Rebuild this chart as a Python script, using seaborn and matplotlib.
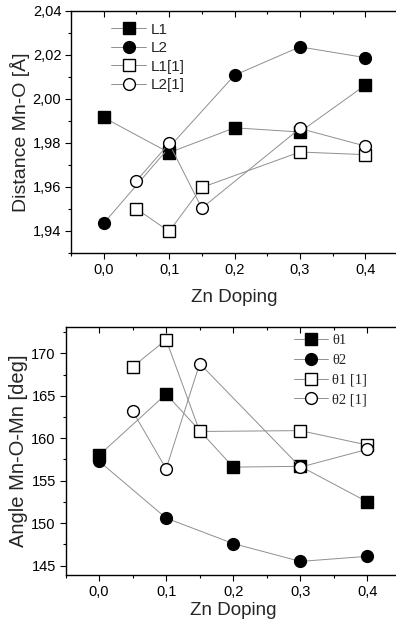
import matplotlib
matplotlib.use("Agg")
import matplotlib.pyplot as plt
from matplotlib.ticker import FuncFormatter, MultipleLocator
import seaborn as sns
import pandas as pd

sns.set_style("ticks")
plt.rcParams['font.family'] = ['Liberation Sans', 'DejaVu Sans']

# --- Data: top panel (Distance Mn-O) ---
x_main = [0.0, 0.1, 0.2, 0.3, 0.4]
x_ref = [0.05, 0.1, 0.15, 0.3, 0.4]
L1 = [1.9916, 1.9756, 1.9869, 1.9850, 2.0063]
L2 = [1.9435, 1.9780, 2.0108, 2.0237, 2.0188]
L1_ref = [1.9501, 1.9398, 1.9598, 1.9759, 1.9747]
L2_ref = [1.9628, 1.9798, 1.9504, 1.9866, 1.9786]

# --- Data: bottom panel (Angle Mn-O-Mn) ---
theta1 = [158.0, 165.2, 156.6, 156.7, 152.5]
theta2 = [157.3, 150.6, 147.6, 145.5, 146.1]
theta1_ref = [168.4, 171.6, 160.8, 160.9, 159.2]
theta2_ref = [163.2, 156.4, 168.8, 156.6, 158.7]

top_labels = ["L1", "L2", "L1[1]", "L2[1]"]
bot_labels = ["θ1", "θ2", "θ1 [1]", "θ2 [1]"]
xticks = [0.0, 0.1, 0.2, 0.3, 0.4]

fig = plt.figure(figsize=(3.96, 6.25), dpi=100)
W, H = 396, 625
ax1 = fig.add_axes([71 / W, 1 - 253 / H, (398 - 71) / W, (253 - 11) / H])
ax2 = fig.add_axes([65.5 / W, 1 - 575 / H, (401 - 65.5) / W, (575 - 327) / H])

styles = [("s", "black"), ("o", "black"), ("s", "white"), ("o", "white")]
lc = "#8f8f8f"


def draw(ax, xs, ys, labels):
    for x, y, lab, (m, fc) in zip(xs, ys, labels, styles):
        df = pd.DataFrame({"x": x, "y": y})
        sns.lineplot(data=df, x="x", y="y", ax=ax, color=lc, lw=0.7,
                     marker=m, markersize=8 if m == "s" else 8.5,
                     markerfacecolor=fc, markeredgecolor="black",
                     markeredgewidth=1.0, label=lab, sort=False)


comma = FuncFormatter(lambda v, p: f"{v:.1f}".replace(".", ","))

draw(ax1, [x_main, x_main, x_ref, x_ref], [L1, L2, L1_ref, L2_ref], top_labels)
ax1.set_xlim(-0.05, 0.45)
ax1.set_ylim(1.93, 2.04)
ax1.yaxis.set_major_locator(MultipleLocator(0.02))
ax1.yaxis.set_minor_locator(MultipleLocator(0.01))
ax1.yaxis.set_major_formatter(FuncFormatter(lambda v, p: f"{v:.2f}".replace(".", ",")))
ax1.set_ylabel("Distance Mn-O [Å]", fontsize=14)
ax1.legend(loc="upper left", bbox_to_anchor=(0.095, 0.99), frameon=False,
           fontsize=11, handlelength=2.3, labelspacing=0.3, borderaxespad=0.2,
           handletextpad=0.3)

draw(ax2, [x_main, x_main, x_ref, x_ref], [theta1, theta2, theta1_ref, theta2_ref], bot_labels)
ax2.set_xlim(-0.05, 0.45)
ax2.set_ylim(143.9, 173.1)
ax2.yaxis.set_major_locator(MultipleLocator(5))
ax2.yaxis.set_minor_locator(MultipleLocator(2.5))
ax2.yaxis.set_major_formatter(FuncFormatter(lambda v, p: f"{v:.0f}"))
ax2.set_ylabel("Angle Mn-O-Mn [deg]", fontsize=14.5)
ax2.legend(loc="upper right", bbox_to_anchor=(0.925, 1.007), frameon=False,
           handlelength=2.3, labelspacing=0.45, borderaxespad=0.2,
           handletextpad=0.3, prop={"family": ["Liberation Serif"], "size": 10.5})

for ax in (ax1, ax2):
    ax.set_xticks(xticks)
    ax.xaxis.set_minor_locator(MultipleLocator(0.05))
    ax.xaxis.set_major_formatter(comma)
    ax.set_xlabel("Zn Doping", fontsize=13.5)
    ax.tick_params(which="both", direction="out", top=True, right=True,
                   labeltop=False, labelright=False,
                   labelsize=10.5, width=0.8, colors="black", pad=3)
    ax.tick_params(which="major", length=4)
    ax.tick_params(which="minor", length=2.5)
    for s in ax.spines.values():
        s.set_linewidth(1.0)
        s.set_color("black")
    ax.grid(False)
    # top/right ticks point inward
    for t in ax.xaxis.get_major_ticks() + ax.xaxis.get_minor_ticks():
        t.tick2line.set_marker(3)
    for t in ax.yaxis.get_major_ticks() + ax.yaxis.get_minor_ticks():
        t.tick2line.set_marker(1)

ax1.xaxis.set_label_coords(0.5, -0.148)
ax2.xaxis.set_label_coords(0.5, -0.108)
ax1.yaxis.set_label_coords(-0.125, 0.5)
ax2.yaxis.set_label_coords(-0.112, 0.5)

fig.savefig("out.png", dpi=100)
